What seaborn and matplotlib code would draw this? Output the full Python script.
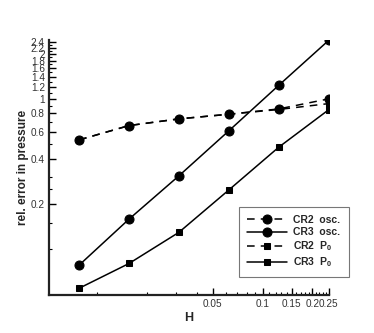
import numpy as np
import pandas as pd
import matplotlib
matplotlib.use('Agg')
import matplotlib.pyplot as plt
from matplotlib.ticker import FixedLocator, FuncFormatter, NullFormatter
import seaborn as sns

# grid spacing
H = [0.0078125, 0.015625, 0.03125, 0.0625, 0.125, 0.25]

# relative error in pressure
cr2_osc = [0.533, 0.664, 0.736, 0.79, 0.857, 1.0]
cr3_osc = [0.078, 0.158, 0.307, 0.612, 1.23, 2.45]
cr2_p0 = [0.533, 0.664, 0.736, 0.79, 0.85, 0.93]
cr3_p0 = [0.0547, 0.080, 0.129, 0.247, 0.476, 0.845]

x_major = [0.05, 0.1, 0.15, 0.2, 0.25]
y_major = [0.2, 0.4, 0.6, 0.8, 1, 1.2, 1.4, 1.6, 1.8, 2, 2.2, 2.4]

sns.set_style('white')
plt.rcParams['font.family'] = ['Liberation Sans', 'DejaVu Sans']
plt.rcParams['mathtext.fontset'] = 'custom'
plt.rcParams['mathtext.rm'] = 'Liberation Sans'
plt.rcParams['mathtext.bf'] = 'Liberation Sans:bold'

fig = plt.figure(figsize=(3.74, 3.33), dpi=100)
ax = fig.add_axes([0.131, 0.114, 0.749, 0.766])

series = [
    ('CR2  osc.', cr2_osc, 'o', (0, (5, 4)), 6.5),
    ('CR3  osc.', cr3_osc, 'o', '-', 6.5),
    ('CR2  P$_\\mathbf{0}$', cr2_p0, 's', (0, (5, 4)), 4.0),
    ('CR3  P$_\\mathbf{0}$', cr3_p0, 's', '-', 4.0),
]
for label, vals, mk, ls, ms in series:
    df = pd.DataFrame({'H': H, 'err': vals})
    sns.lineplot(data=df, x='H', y='err', ax=ax, color='black', marker=mk,
                 markersize=ms, markeredgecolor='black', linewidth=1.1,
                 linestyle=ls, label=label, legend=False)

ax.set_xscale('log')
ax.set_yscale('log')
ax.set_xlim(0.00514, 0.252)
ax.set_ylim(0.0493, 2.47)

ax.xaxis.set_major_locator(FixedLocator(x_major))
ax.xaxis.set_minor_locator(FixedLocator([0.01, 0.02, 0.03, 0.04, 0.06, 0.07, 0.08, 0.09]
                                        + [0.11 + 0.01 * i for i in range(14) if i not in (4, 9)]))
ax.yaxis.set_major_locator(FixedLocator(y_major))
ax.yaxis.set_minor_locator(FixedLocator([0.1, 0.15, 0.25, 0.3, 0.5, 0.7, 0.9]
                                        + [1.1 + 0.2 * i for i in range(7)]))
fmt = FuncFormatter(lambda v, p: '%g' % v)
ax.xaxis.set_major_formatter(fmt)
ax.yaxis.set_major_formatter(fmt)
ax.xaxis.set_minor_formatter(NullFormatter())
ax.yaxis.set_minor_formatter(NullFormatter())

ax.tick_params(which='major', direction='in', length=5, width=1, labelsize=7.2, pad=3,
               colors='black', labelcolor='#333333')
ax.tick_params(which='minor', direction='in', length=2.5, width=0.8, colors='black')
ax.tick_params(axis='y', which='both', left=True)
ax.tick_params(axis='x', which='both', bottom=True)

for s in ['top', 'right']:
    ax.spines[s].set_visible(False)
for s in ['left', 'bottom']:
    ax.spines[s].set_linewidth(1.6)
    ax.spines[s].set_color('#222222')

ax.set_xlabel('H', fontsize=9, fontweight='bold', labelpad=2)
ax.set_ylabel('rel. error in pressure', fontsize=8.5, fontweight='bold', labelpad=1)

handles, labels = ax.get_legend_handles_labels()
leg = fig.legend(handles, labels, loc='upper left', bbox_to_anchor=(0.639, 0.379),
                 frameon=True, fancybox=False, edgecolor='#555555',
                 prop={'weight': 'bold', 'size': 7.5}, handlelength=3.8,
                 borderpad=0.8, labelspacing=0.2, handletextpad=0.6, borderaxespad=0)
leg.get_frame().set_linewidth(0.8)

fig.savefig('out.png', dpi=100)
